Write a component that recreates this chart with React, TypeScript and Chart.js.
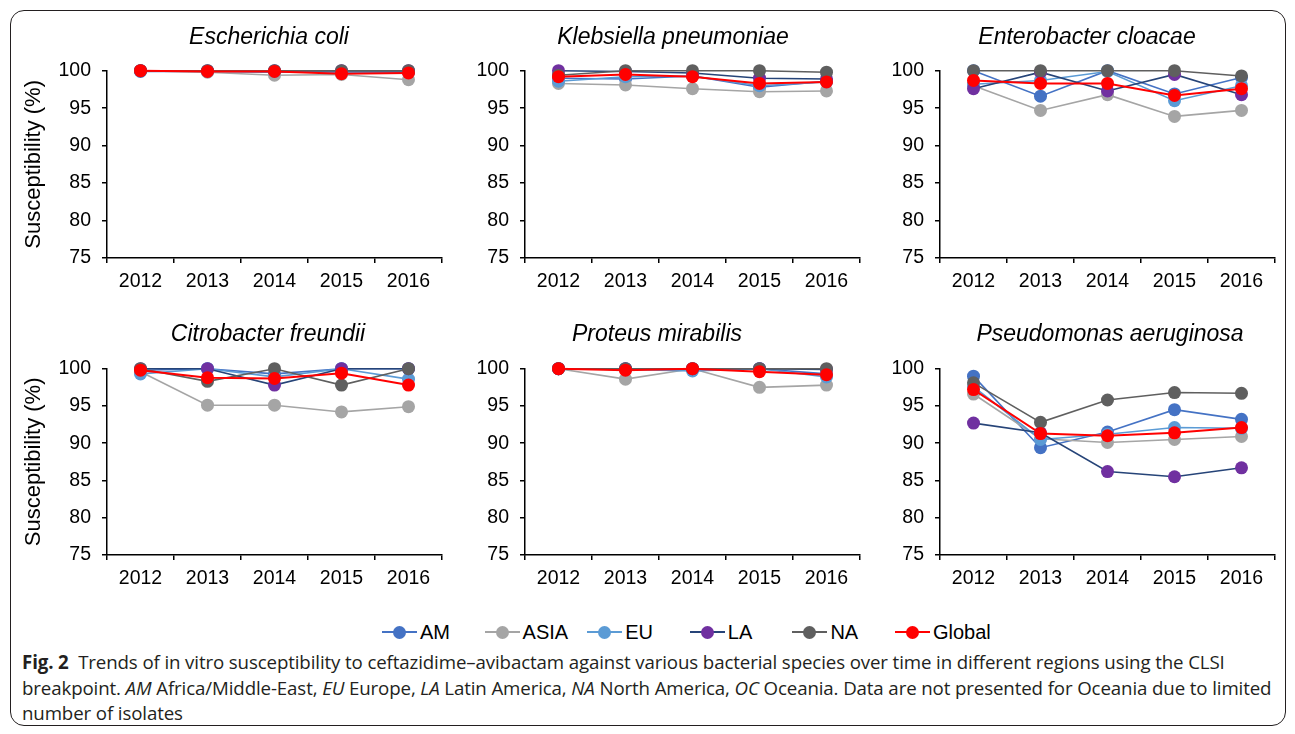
import React, { useEffect, useRef } from 'react';
import { Chart, registerables } from 'chart.js';

Chart.register(...registerables);

// ---------- data ----------
const years = ['2012', '2013', '2014', '2015', '2016'];
const regions = ['AM', 'ASIA', 'EU', 'LA', 'NA', 'Global'];
const yMin = 75;
const yMax = 100;
const yStep = 5;

const escherichiaColi: Record<string, number[]> = {
  AM: [99.9, 99.9, 99.8, 99.8, 99.8],
  ASIA: [100, 99.8, 99.4, 99.5, 98.8],
  EU: [100, 99.9, 99.9, 99.8, 99.9],
  LA: [100, 100, 100, 100, 100],
  NA: [100, 100, 100, 100, 100],
  Global: [100, 99.9, 99.9, 99.6, 99.7],
};

const klebsiellaPneumoniae: Record<string, number[]> = {
  AM: [99.0, 98.9, 99.3, 97.8, 98.6],
  ASIA: [98.3, 98.1, 97.6, 97.2, 97.3],
  EU: [98.6, 99.2, 99.3, 98.0, 98.5],
  LA: [100, 99.9, 99.7, 99.0, 98.9],
  NA: [99.4, 100, 100, 100, 99.8],
  Global: [99.2, 99.5, 99.2, 98.3, 98.5],
};

const enterobacterCloacae: Record<string, number[]> = {
  AM: [100, 96.6, 100, 96.9, 99.1],
  ASIA: [98.0, 94.7, 96.8, 93.9, 94.7],
  EU: [98.2, 98.7, 99.9, 96.0, 98.0],
  LA: [97.6, 99.8, 97.3, 99.5, 96.8],
  NA: [100, 100, 100, 100, 99.3],
  Global: [98.7, 98.3, 98.3, 96.7, 97.6],
};

const citrobacterFreundii: Record<string, number[]> = {
  AM: [99.8, 100, 99.3, 100, 100],
  ASIA: [99.6, 95.1, 95.1, 94.2, 94.9],
  EU: [99.3, 100, 98.9, 100, 98.6],
  LA: [100, 100, 97.8, 100, 100],
  NA: [100, 98.3, 100, 97.8, 100],
  Global: [99.8, 98.8, 98.7, 99.4, 97.8],
};

const proteusMirabilis: Record<string, number[]> = {
  AM: [100, 100, 100, 100, 99.3],
  ASIA: [100, 98.6, 100, 97.5, 97.8],
  EU: [100, 99.9, 99.7, 100, 98.9],
  LA: [100, 100, 100, 100, 99.9],
  NA: [100, 100, 100, 100, 100],
  Global: [100, 99.8, 100, 99.6, 99.2],
};

const pseudomonasAeruginosa: Record<string, number[]> = {
  AM: [99.0, 89.4, 91.5, 94.5, 93.2],
  ASIA: [96.6, 90.6, 90.1, 90.5, 90.9],
  EU: [97.6, 90.5, 91.2, 92.1, 92.0],
  LA: [92.7, 91.4, 86.2, 85.5, 86.7],
  NA: [98.1, 92.8, 95.8, 96.8, 96.7],
  Global: [97.2, 91.3, 91.0, 91.4, 92.1],
};

const speciesNames = [
  'Escherichia coli',
  'Klebsiella pneumoniae',
  'Enterobacter cloacae',
  'Citrobacter freundii',
  'Proteus mirabilis',
  'Pseudomonas aeruginosa',
];
const speciesData = [
  escherichiaColi,
  klebsiellaPneumoniae,
  enterobacterCloacae,
  citrobacterFreundii,
  proteusMirabilis,
  pseudomonasAeruginosa,
];

// ---------- styles ----------
const lineColors: Record<string, string> = {
  AM: '#4472C4',
  ASIA: '#A5A5A5',
  EU: '#5B9BD5',
  LA: '#264478',
  NA: '#5F5F5F',
  Global: '#FF0000',
};
const markerColors: Record<string, string> = {
  AM: '#4472C4',
  ASIA: '#A5A5A5',
  EU: '#5B9BD5',
  LA: '#7030A0',
  NA: '#5F5F5F',
  Global: '#FF0000',
};

const FONT = '"Liberation Sans", Arial, Helvetica, sans-serif';
const PAD_T = 12;
const LABEL_OVERFLOW = 10;
const X_AXIS_H = 40;
const PLOT_W = 335;
const PAD_R = 12;

const panelLayout = [
  { axisX: 107, top: 70, plotH: 188, titleX: 269, titleY: 36, yTitle: true },
  { axisX: 525, top: 70, plotH: 188, titleX: 673, titleY: 36, yTitle: false },
  { axisX: 940, top: 70, plotH: 188, titleX: 1087, titleY: 36, yTitle: false },
  { axisX: 107, top: 368, plotH: 187, titleX: 268, titleY: 333, yTitle: true },
  { axisX: 525, top: 368, plotH: 187, titleX: 657, titleY: 333, yTitle: false },
  { axisX: 940, top: 368, plotH: 187, titleX: 1110, titleY: 333, yTitle: false },
];

function Panel({ idx }: { idx: number }) {
  const ref = useRef<HTMLCanvasElement>(null);
  const p = panelLayout[idx];
  const yw = p.yTitle ? 100 : 60;
  const L = p.axisX - yw;
  const W = yw + PLOT_W + PAD_R;
  const T = p.top - PAD_T - LABEL_OVERFLOW;
  const H = PAD_T + LABEL_OVERFLOW + p.plotH + X_AXIS_H;

  useEffect(() => {
    const values = speciesData[idx];
    const gridOpts = {
      display: true,
      drawOnChartArea: false,
      drawTicks: true,
      tickLength: 5,
      color: '#000',
      lineWidth: 1.5,
    };
    const chart = new Chart(ref.current as HTMLCanvasElement, {
      type: 'line',
      data: {
        labels: years,
        datasets: regions.map((r, i) => ({
          label: r,
          data: values[r],
          borderColor: lineColors[r],
          backgroundColor: markerColors[r],
          pointBackgroundColor: markerColors[r],
          pointBorderColor: markerColors[r],
          pointBorderWidth: 0,
          pointRadius: 6.5,
          borderWidth: r === 'Global' ? 2 : 1.6,
          tension: 0,
          clip: false as any,
          order: regions.length - i,
        })),
      },
      options: {
        responsive: false,
        animation: false,
        devicePixelRatio: 1,
        layout: { padding: { top: PAD_T, right: PAD_R, left: 0, bottom: 0 } },
        plugins: {
          legend: { display: false },
          tooltip: { enabled: false },
          title: { display: false },
        },
        scales: {
          x: {
            offset: true,
            grid: { ...gridOpts, offset: true },
            border: { display: true, color: '#000', width: 1.5 },
            ticks: {
              color: '#000',
              font: { family: FONT, size: 19.5 },
              padding: 7,
              maxRotation: 0,
              autoSkip: false,
            },
            afterFit: (s: any) => {
              s.height = X_AXIS_H;
            },
          },
          y: {
            min: yMin,
            max: yMax,
            ticks: {
              stepSize: yStep,
              color: '#000',
              font: { family: FONT, size: 19.5 },
              padding: 11,
            },
            grid: gridOpts,
            border: { display: true, color: '#000', width: 1.5 },
            title: p.yTitle
              ? {
                  display: true,
                  text: 'Susceptibility (%)',
                  color: '#000',
                  font: { family: FONT, size: 22 },
                  padding: { top: 13.8, bottom: 0 },
                }
              : { display: false },
            afterFit: (s: any) => {
              s.width = yw;
            },
          },
        },
      },
    });
    return () => chart.destroy();
  }, [idx]);

  return (
    <>
      <canvas
        ref={ref}
        width={W}
        height={H}
        style={{ position: 'absolute', left: L, top: T, width: W, height: H }}
      />
      <div
        style={{
          position: 'absolute',
          left: p.titleX,
          top: p.titleY,
          transform: 'translate(-50%, -50%)',
          fontFamily: FONT,
          fontStyle: 'italic',
          fontSize: 23,
          color: '#000',
          whiteSpace: 'nowrap',
          lineHeight: '28px',
        }}
      >
        {speciesNames[idx]}
      </div>
    </>
  );
}

function LegendItem({ region, x }: { region: string; x: number }) {
  return (
    <div
      style={{
        position: 'absolute',
        left: x,
        top: 620,
        height: 24,
        display: 'flex',
        alignItems: 'center',
      }}
    >
      <div style={{ position: 'relative', width: 35, height: 24 }}>
        <div
          style={{
            position: 'absolute',
            left: 0,
            width: 35,
            top: 11,
            height: 2,
            background: lineColors[region],
          }}
        />
        <div
          style={{
            position: 'absolute',
            left: 11,
            top: 5.5,
            width: 13,
            height: 13,
            borderRadius: '50%',
            background: markerColors[region],
          }}
        />
      </div>
      <span
        style={{
          marginLeft: 3,
          fontFamily: FONT,
          fontSize: 20,
          color: '#000',
          whiteSpace: 'nowrap',
        }}
      >
        {region}
      </span>
    </div>
  );
}

export default function App() {
  return (
    <div
      style={{
        position: 'fixed',
        left: 0,
        top: 0,
        width: 1295,
        height: 734,
        background: '#fff',
        overflow: 'hidden',
      }}
    >
      <div
        style={{
          position: 'absolute',
          left: 10,
          top: 10,
          width: 1274,
          height: 714,
          border: '1px solid #231f20',
          borderRadius: 14,
        }}
      />
      {speciesNames.map((_, i) => (
        <Panel key={i} idx={i} />
      ))}
      {regions.map((r, i) => (
        <LegendItem key={r} region={r} x={382 + i * 102.6} />
      ))}
      <div
        style={{
          position: 'absolute',
          left: 22,
          top: 649,
          fontFamily: '"Open Sans", "Noto Sans", sans-serif',
          fontSize: 18.7,
          letterSpacing: '-0.12px',
          lineHeight: '25.5px',
          color: '#231f20',
          whiteSpace: 'nowrap',
        }}
      >
        <b>Fig. 2</b>&nbsp; Trends of in vitro susceptibility to ceftazidime–avibactam against various
        bacterial species over time in different regions using the CLSI
        <br />
        breakpoint. <i>AM</i> Africa/Middle-East, <i>EU</i> Europe, <i>LA</i> Latin America,{' '}
        <i>NA</i> North America, <i>OC</i> Oceania. Data are not presented for Oceania due to limited
        <br />
        number of isolates
      </div>
    </div>
  );
}
